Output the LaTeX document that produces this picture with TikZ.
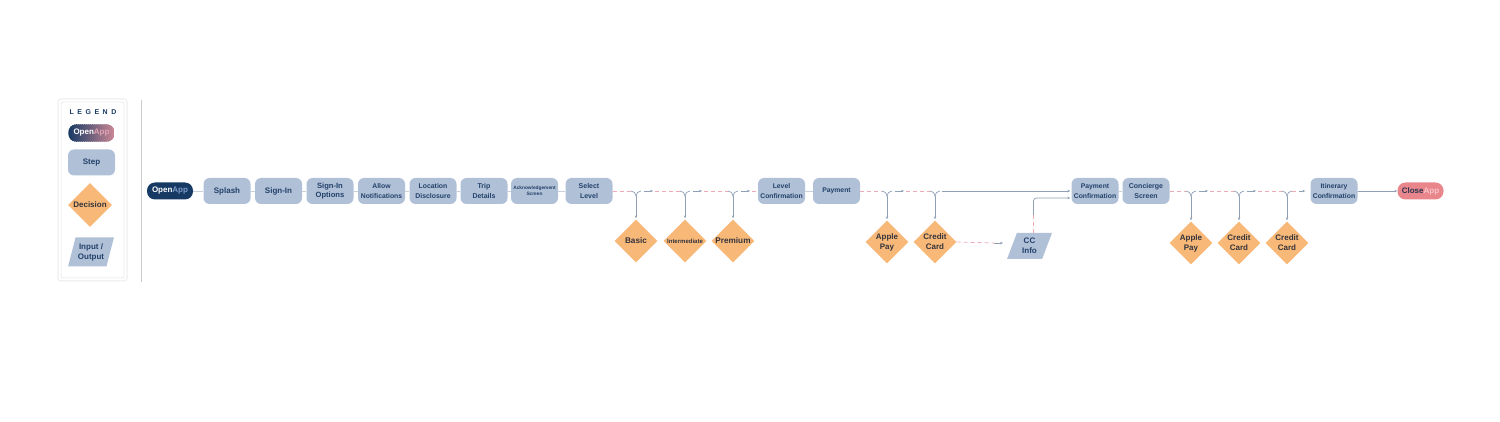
\documentclass[tikz,border=0pt]{standalone}
\usepackage{fontspec}
\setmainfont{Liberation Sans}
\newfontfamily\legendfont[LetterSpace=50]{Liberation Sans}
\usetikzlibrary{arrows.meta, positioning, shapes.geometric}

\definecolor{navy}{HTML}{173A64}
\definecolor{appblue}{HTML}{7F9DC8}
\definecolor{apppink}{HTML}{E3A3B2}
\definecolor{legpink}{HTML}{C48494}
\definecolor{stepfill}{HTML}{B0C0D6}
\definecolor{steptext}{HTML}{22416B}
\definecolor{decfill}{HTML}{F8B878}
\definecolor{dectext}{HTML}{33343C}
\definecolor{closefill}{HTML}{E9868C}
\definecolor{closeapp}{HTML}{F8C6CA}
\definecolor{closetext}{HTML}{2A3550}
\definecolor{linkgray}{HTML}{C6CFDA}
\definecolor{forkgray}{HTML}{8FA0B6}
\definecolor{dashpink}{HTML}{EFAAB6}

\newcommand{\lbl}[2]{\fontsize{#1}{#2}\selectfont}

\tikzset{
  stepbox/.style={rectangle, rounded corners=6pt, fill=stepfill, text=steptext,
    minimum width=47pt, minimum height=26pt, inner sep=0.5pt, align=center},
  decision/.style={diamond, fill=decfill, text=dectext, minimum width=43pt,
    minimum height=43pt, inner sep=0pt, align=center},
  iobox/.style={trapezium, trapezium left angle=70, trapezium right angle=110,
    trapezium stretches=true, fill=stepfill, text=steptext, minimum width=45pt,
    minimum height=26pt, inner sep=0pt, align=center},
  pill/.style={rectangle, rounded corners=8pt, minimum width=46pt,
    minimum height=17pt, inner sep=0pt},
  link/.style={draw=linkgray, line width=0.8pt},
  fork/.style={draw=forkgray, line width=0.7pt},
  dashlink/.style={draw=dashpink, line width=0.8pt, dash pattern=on 4pt off 3pt},
  tip/.style={-{Stealth[length=3pt,width=2.6pt]}},
}

\begin{document}
\begin{tikzpicture}[x=1pt, y=-1pt, font=\bfseries]
  \useasboundingbox (0,0) rectangle (1500,422);

  % legend
  \draw[draw=gray!10, line width=1.5pt, rounded corners=3pt] (58,99) rectangle (127,281);
  \draw[draw=gray!22, line width=0.5pt, rounded corners=2pt] (61,102) rectangle (124,278);
  \node[text=navy, font=\legendfont\bfseries\lbl{7}{8}] (legtitle) at (93,112) {LEGEND};
  \path node[pill] (legopen) at (91.5,133) {};
  \begin{scope}
    \clip[rounded corners=8pt] (legopen.south west) rectangle (legopen.north east);
    \foreach \i in {0,...,22} {
      \pgfmathsetmacro\mix{100*\i/22}
      \fill[color=legpink!\mix!navy] ([xshift=\i*2pt]legopen.south west)
        rectangle ([xshift=\i*2pt+2.2pt]legopen.north west);
    }
  \end{scope}
  \node[font=\bfseries\lbl{8}{9}] (legopentxt) at (legopen)
    {\textcolor{white}{Open}\textcolor{apppink}{App}};
  \node[stepbox, font=\bfseries\lbl{8}{9.5}] (legstep) at (91.5,162.5) {Step};
  \node[decision, minimum width=44pt, minimum height=44pt, font=\bfseries\lbl{8}{9.5}] (legdec) at (90,205) {Decision};
  \node[iobox, minimum width=46pt, minimum height=29pt, font=\bfseries\lbl{8}{10}] (legio) at (91,252) {Input /\\Output};
  \draw[gray!40, line width=0.6pt] (141,100) -- (141,282);

  % main steps
  \node[pill, fill=navy, font=\bfseries\lbl{8}{9}] (open) at (170,191)
    {\textcolor{white}{Open}\textcolor{appblue}{App}};
  \node[stepbox, font=\bfseries\lbl{8}{9.5}] (splash) at (227,191) {Splash};
  \node[stepbox, font=\bfseries\lbl{8}{9.5}] (signin) at (278.5,191) {Sign-In};
  \node[stepbox, font=\bfseries\lbl{7.6}{9.5}] (options) at (330,191) {Sign-In\\Options};
  \node[stepbox, font=\bfseries\lbl{6.8}{9.5}] (notif) at (381.5,191) {Allow\\Notifications};
  \node[stepbox, font=\bfseries\lbl{6.9}{9.5}] (loc) at (433,191) {Location\\Disclosure};
  \node[stepbox, font=\bfseries\lbl{7}{9.5}] (trip) at (484,191) {Trip\\Details};
  \node[stepbox, font=\bfseries\lbl{4.8}{6.3}] (ack) at (534.5,191) {Acknowledgement\\Screen};
  \node[stepbox, font=\bfseries\lbl{7}{9.5}] (select) at (589,191) {Select\\Level};
  \node[stepbox, font=\bfseries\lbl{6.8}{9.5}] (lvl) at (781.5,191) {Level\\Confirmation};
  \node[stepbox, font=\bfseries\lbl{6.8}{9.5}] (pay) at (836.5,191) {Payment};
  \node[stepbox, font=\bfseries\lbl{6.8}{9.5}] (paycf) at (1095,191) {Payment\\Confirmation};
  \node[stepbox, font=\bfseries\lbl{7}{9.5}] (conc) at (1146,191) {Concierge\\Screen};
  \node[stepbox, font=\bfseries\lbl{6.8}{9.5}] (itin) at (1334,191) {Itinerary\\Confirmation};
  \node[pill, fill=closefill, font=\bfseries\lbl{8}{9}] (close) at (1420.5,191)
    {\textcolor{closetext}{Close}\textcolor{closeapp}{App}};

  % decisions
  \node[decision, font=\bfseries\lbl{8.2}{9.5}] (basic) at (636,241) {Basic};
  \node[decision, font=\bfseries\lbl{6}{7}] (inter) at (685,241) {Intermediate};
  \node[decision, font=\bfseries\lbl{8.2}{9.5}] (prem) at (733,241) {Premium};
  \node[decision, font=\bfseries\lbl{8}{10}] (apay1) at (887,242) {Apple\\Pay};
  \node[decision, font=\bfseries\lbl{8}{10}] (ccard1) at (935,242) {Credit\\Card};
  \node[decision, font=\bfseries\lbl{8}{10}] (apay2) at (1191,243) {Apple\\Pay};
  \node[decision, font=\bfseries\lbl{8}{10}] (ccard2) at (1239,243) {Credit\\Card};
  \node[decision, font=\bfseries\lbl{8}{10}] (ccard3) at (1287,243) {Credit\\Card};
  \node[iobox, font=\bfseries\lbl{8}{10}] (ccinfo) at (1029.5,246) {CC\\Info};

  % fork points
  \coordinate (fa1) at (636,191);
  \coordinate (fa2) at (685,191);
  \coordinate (fa3) at (733,191);
  \coordinate (fb1) at (887,191);
  \coordinate (fb2) at (935,191);
  \coordinate (fc1) at (1191,191);
  \coordinate (fc2) at (1239,191);
  \coordinate (fc3) at (1287,191);
  \coordinate (ccin) at (1003,243);

  % plain links
  \foreach \a/\b in {open/splash, splash/signin, signin/options, options/notif,
      notif/loc, loc/trip, trip/ack, ack/select, lvl/pay, paycf/conc}
    \draw[link] (\a) -- (\b);
  \draw[fork, tip] (itin) -- (close);

  % forks down to the decisions
  \foreach \f/\d in {fa1/basic, fa2/inter, fa3/prem, fb1/apay1, fb2/ccard1,
      fc1/apay2, fc2/ccard2, fc3/ccard3} {
    \draw[fork] ([xshift=-5pt]\f) to[out=0,in=90] ([yshift=-5pt]\f)
      to[out=90,in=180] ([xshift=5pt]\f);
    \draw[fork, tip, shorten >=1pt] ([yshift=-5pt]\f) -- (\d.north);
  }

  % level choice
  \draw[dashlink] (select.east) -- ([xshift=-5pt]fa1);
  \foreach \a/\b in {fa1/fa2, fa2/fa3} {
    \draw[fork, tip] ([xshift=8pt]\a) -- ([xshift=17pt]\a);
    \draw[dashlink] ([xshift=19pt]\a) -- ([xshift=-5pt]\b);
  }
  \draw[fork, tip] ([xshift=8pt]fa3) -- ([xshift=17pt]fa3);
  \draw[dashlink] ([xshift=19pt]fa3) -- (lvl.west);

  % payment choice
  \draw[dashlink] (pay.east) -- ([xshift=-5pt]fb1);
  \draw[fork, tip] ([xshift=8pt]fb1) -- ([xshift=17pt]fb1);
  \draw[dashlink] ([xshift=19pt]fb1) -- ([xshift=-5pt]fb2);
  \draw[fork, tip, shorten >=1pt] ([xshift=7pt]fb2) -- (paycf.west);
  \draw[dashlink] (ccard1.east) -- ([xshift=-9pt]ccin);
  \draw[fork, tip] ([xshift=-9pt]ccin) -- (ccin);
  \draw[dashlink] ([xshift=4pt]ccinfo.north) -- ([xshift=4pt, yshift=18pt]ccinfo.north);
  \draw[fork, tip, rounded corners=3pt, shorten >=1pt] ([xshift=4pt, yshift=18pt]ccinfo.north)
    |- ([yshift=-7pt]paycf.west);

  % concierge choice
  \draw[dashlink] (conc.east) -- ([xshift=-5pt]fc1);
  \foreach \a/\b in {fc1/fc2, fc2/fc3} {
    \draw[fork, tip] ([xshift=8pt]\a) -- ([xshift=17pt]\a);
    \draw[dashlink] ([xshift=19pt]\a) -- ([xshift=-5pt]\b);
  }
  \draw[dashlink] ([xshift=5pt]fc3) -- ([xshift=12pt]fc3);
  \draw[fork, tip] ([xshift=12pt]fc3) -- ([xshift=-5pt]itin.west);
\end{tikzpicture}
\end{document}
